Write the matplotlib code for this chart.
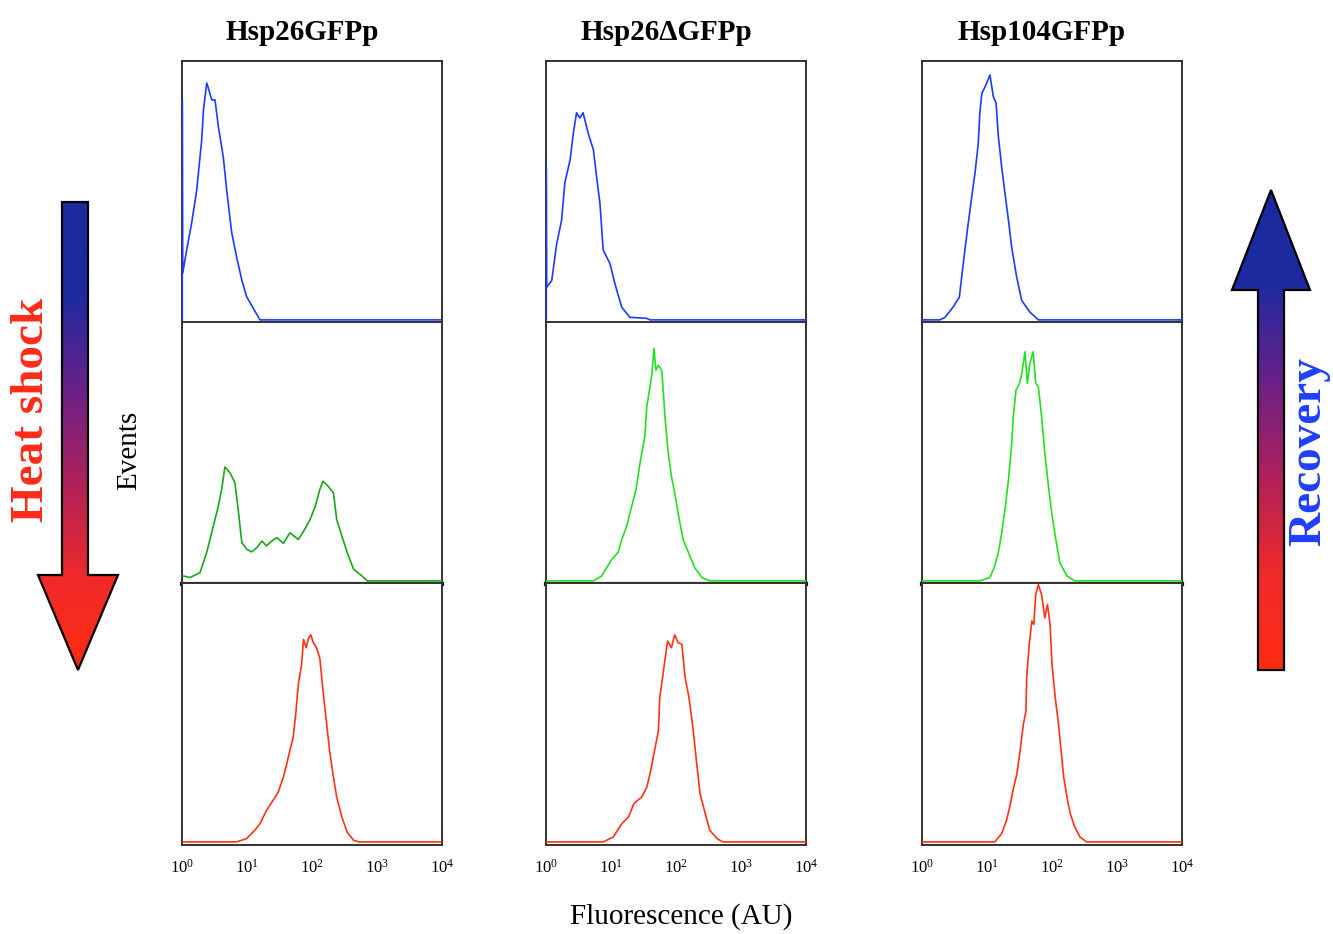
import numpy as np
import matplotlib
matplotlib.use("Agg")
import matplotlib.pyplot as plt
from matplotlib.colors import LinearSegmentedColormap
from matplotlib.patches import Polygon

SERIF = 'Liberation Serif'
plt.rcParams['font.family'] = SERIF
plt.rcParams['mathtext.fontset'] = 'custom'
plt.rcParams['mathtext.rm'] = SERIF

# strain names (columns) and conditions (rows, top to bottom)
strains = ['Hsp26GFPp', 'Hsp26\u0394GFPp', 'Hsp104GFPp']
row_colors = [['#1a3cff', '#1a3cff', '#1a3cff'],
              ['#17a817', '#22e022', '#22e022'],
              ['#ff3311', '#ff3311', '#ff3311']]

# histograms: log10(fluorescence) and relative event count
# row 1 (blue)
hsp26_r1_log = [0.004, 0.004, 0.01, 0.072, 0.149, 0.226, 0.303, 0.33, 0.38, 0.40, 0.457, 0.508,
                0.56, 0.635, 0.688, 0.765, 0.84, 0.92, 0.995, 1.2, 4.0]
hsp26_r1_ev = [0, 0.85, 0.18, 0.27, 0.375, 0.50, 0.695, 0.81, 0.915, 0.90, 0.85, 0.85,
               0.745, 0.63, 0.50, 0.336, 0.243, 0.154, 0.089, 0.0, 0.0]
hsp26d_r1_log = [0.004, 0.004, 0.01, 0.088, 0.165, 0.24, 0.29, 0.37, 0.42, 0.47, 0.52, 0.57, 0.65,
                 0.73, 0.78, 0.83, 0.88, 0.985, 1.06, 1.165, 1.29, 1.55, 1.6, 4.0]
hsp26d_r1_ev = [0, 0.59, 0.126, 0.152, 0.295, 0.385, 0.53, 0.617, 0.72, 0.80, 0.78, 0.80, 0.72,
                0.656, 0.55, 0.45, 0.27, 0.217, 0.14, 0.049, 0.01, 0.006, 0.0, 0.0]
hsp104_r1_log = [0, 0.277, 0.354, 0.48, 0.575, 0.61, 0.66, 0.71, 0.765, 0.815, 0.865, 0.89,
                 0.92, 0.97, 1.046, 1.097, 1.14, 1.175, 1.226, 1.277, 1.33, 1.38, 1.457,
                 1.534, 1.66, 1.79, 4.0]
hsp104_r1_ev = [0, 0, 0.01, 0.05, 0.088, 0.165, 0.27, 0.37, 0.475, 0.566, 0.68, 0.80,
                0.875, 0.90, 0.946, 0.863, 0.837, 0.708, 0.59, 0.488, 0.385, 0.28, 0.165,
                0.075, 0.03, 0.0, 0.0]
# row 2 (green)
hsp26_r2_log = [0, 0.123, 0.277, 0.38, 0.48, 0.56, 0.61, 0.66, 0.74, 0.815, 0.87, 0.92, 1.0,
                1.07, 1.15, 1.23, 1.30, 1.38, 1.46, 1.56, 1.66, 1.79, 1.89, 1.97, 2.05,
                2.12, 2.17, 2.25, 2.33, 2.38, 2.46, 2.54, 2.64, 2.77, 2.85, 4.0]
hsp26_r2_ev = [0.02, 0.013, 0.032, 0.11, 0.21, 0.29, 0.353, 0.44, 0.417, 0.378, 0.263, 0.148,
               0.122, 0.112, 0.128, 0.154, 0.135, 0.154, 0.167, 0.145, 0.186, 0.16, 0.2,
               0.237, 0.288, 0.353, 0.385, 0.365, 0.34, 0.237, 0.173, 0.11, 0.045, 0.019,
               0.0, 0.0]
hsp26d_r2_log = [0, 0.73, 0.857, 1.01, 1.11, 1.165, 1.24, 1.32, 1.385, 1.446, 1.52, 1.55, 1.6,
                 1.63, 1.66, 1.69, 1.73, 1.78, 1.80, 1.83, 1.88, 1.93, 1.98, 2.05, 2.11,
                 2.19, 2.29, 2.4, 2.52, 4.0]
hsp26d_r2_ev = [0, 0, 0.019, 0.083, 0.11, 0.16, 0.21, 0.29, 0.353, 0.455, 0.558, 0.673, 0.75,
                0.80, 0.898, 0.814, 0.833, 0.814, 0.75, 0.635, 0.494, 0.404, 0.34, 0.237,
                0.16, 0.11, 0.05, 0.013, 0.0, 0.0]
hsp104_r2_log = [0, 0.89, 1.046, 1.12, 1.175, 1.226, 1.277, 1.33, 1.38, 1.405, 1.446, 1.5,
                 1.534, 1.585, 1.62, 1.66, 1.71, 1.75, 1.79, 1.84, 1.89, 1.94, 1.995, 2.05,
                 2.12, 2.23, 2.35, 4.0]
hsp104_r2_ev = [0, 0, 0.013, 0.058, 0.11, 0.186, 0.276, 0.39, 0.53, 0.635, 0.737, 0.763,
                0.80, 0.885, 0.763, 0.84, 0.885, 0.763, 0.75, 0.635, 0.494, 0.378, 0.263,
                0.173, 0.07, 0.019, 0.0, 0.0]
# row 3 (red)
hsp26_r3_log = [0, 0.84, 0.995, 1.12, 1.2, 1.30, 1.40, 1.48, 1.56, 1.61, 1.66, 1.71, 1.75,
                1.79, 1.84, 1.87, 1.91, 1.94, 1.98, 2.02, 2.07, 2.12, 2.17, 2.22, 2.27,
                2.33, 2.38, 2.46, 2.54, 2.64, 2.72, 4.0]
hsp26_r3_ev = [0, 0, 0.013, 0.045, 0.07, 0.122, 0.16, 0.192, 0.25, 0.30, 0.353, 0.404, 0.494,
               0.609, 0.686, 0.782, 0.75, 0.782, 0.80, 0.77, 0.75, 0.71, 0.583, 0.468, 0.353,
               0.25, 0.173, 0.096, 0.038, 0.006, 0.0, 0.0]
hsp26d_r3_log = [0, 0.88, 1.035, 1.165, 1.27, 1.35, 1.47, 1.55, 1.6, 1.65, 1.73, 1.75, 1.80,
                 1.87, 1.93, 1.98, 2.03, 2.09, 2.14, 2.2, 2.26, 2.32, 2.37, 2.45, 2.52, 2.63,
                 2.72, 4.0]
hsp26d_r3_ev = [0, 0, 0.019, 0.07, 0.096, 0.147, 0.173, 0.21, 0.263, 0.327, 0.43, 0.557,
                0.647, 0.776, 0.75, 0.80, 0.77, 0.763, 0.635, 0.557, 0.442, 0.30, 0.186,
                0.109, 0.045, 0.013, 0.0, 0.0]
hsp104_r3_log = [0, 1.12, 1.226, 1.30, 1.35, 1.40, 1.46, 1.51, 1.56, 1.60, 1.61, 1.65, 1.69,
                 1.72, 1.75, 1.79, 1.84, 1.89, 1.93, 1.97, 2.0, 2.05, 2.10, 2.14, 2.18, 2.23,
                 2.28, 2.35, 2.43, 2.53, 4.0]
hsp104_r3_ev = [0, 0, 0.032, 0.083, 0.135, 0.2, 0.263, 0.353, 0.455, 0.506, 0.635, 0.763,
                0.853, 0.84, 0.955, 0.994, 0.955, 0.865, 0.917, 0.84, 0.686, 0.557, 0.455,
                0.353, 0.25, 0.173, 0.109, 0.058, 0.019, 0.0, 0.0]

curves = [[(hsp26_r1_log, hsp26_r1_ev), (hsp26d_r1_log, hsp26d_r1_ev), (hsp104_r1_log, hsp104_r1_ev)],
          [(hsp26_r2_log, hsp26_r2_ev), (hsp26d_r2_log, hsp26d_r2_ev), (hsp104_r2_log, hsp104_r2_ev)],
          [(hsp26_r3_log, hsp26_r3_ev), (hsp26d_r3_log, hsp26d_r3_ev), (hsp104_r3_log, hsp104_r3_ev)]]

W, H = 1333, 934
fig = plt.figure(figsize=(W / 100, H / 100), dpi=100)

# overlay in pixel coordinates for arrows and labels
ov = fig.add_axes([0, 0, 1, 1])
ov.axis('off')

col_left = [182, 546, 922]
row_top = [61, 322, 583]
pw, ph = 260, 262

for r in range(3):
    for c in range(3):
        ax = fig.add_axes([col_left[c] / W, 1 - (row_top[r] + ph) / H, pw / W, ph / H])
        lx, ev = curves[r][c]
        ax.plot(10 ** np.array(lx), ev, color=row_colors[r][c], lw=1.2, zorder=3)
        ax.set_xscale('log')
        ax.set_xlim(1, 1e4)
        ax.set_ylim(-0.012, 1.0)
        ax.set_yticks([])
        ax.minorticks_off()
        for s in ax.spines.values():
            s.set_linewidth(1.4)
            s.set_color('#333333')
        if r == 1:
            ax.spines['bottom'].set_linewidth(3)
            ax.spines['bottom'].set_color('black')
        if r == 2:
            ax.set_xticks([1, 10, 100, 1000, 10000])
            ax.tick_params(axis='x', length=0, pad=10, labelsize=12)
        else:
            ax.set_xticks([])

# titles
for c, name in enumerate(strains):
    ov.text(col_left[c] + pw / 2 - 10, 32, name, ha='center', va='center',
            fontsize=21, fontweight='bold')

ov.text(681, 917, 'Fluorescence (AU)', ha='center', va='center', fontsize=21)
ov.text(129, 450, 'Events', ha='center', va='center', rotation=90, fontsize=21)
ov.text(32, 410, 'Heat shock', ha='center', va='center', rotation=90, fontsize=34,
        fontweight='bold', color='#ff2a1a')
ov.text(1309, 452, 'Recovery', ha='center', va='center', rotation=90, fontsize=34,
        fontweight='bold', color='#1f3fff')

# gradient arrows
cmap = LinearSegmentedColormap.from_list('hs', ['#1a2a9e', '#1e2aa0', '#6a2088', '#b0205a',
                                                '#f02a2a', '#ff2a10'])
grad = np.linspace(0, 1, 256).reshape(-1, 1)

left_arrow = [(62, 202), (88, 202), (88, 575), (118, 575), (78, 670), (38, 575), (62, 575)]
poly = Polygon(left_arrow, closed=True, fc='none', ec='black', lw=1.6, zorder=3)
ov.add_patch(poly)
im = ov.imshow(grad, cmap=cmap, aspect='auto', origin='lower', extent=(38, 118, 202, 672),
               zorder=2)
im.set_clip_path(poly)

right_arrow = [(1271, 190), (1310, 290), (1284, 290), (1284, 670), (1258, 670), (1258, 290),
               (1232, 290)]
poly2 = Polygon(right_arrow, closed=True, fc='none', ec='black', lw=1.6, zorder=3)
ov.add_patch(poly2)
im2 = ov.imshow(grad, cmap=cmap, aspect='auto', origin='lower', extent=(1232, 1310, 188, 670),
                zorder=2)
im2.set_clip_path(poly2)
ov.set_xlim(0, W)
ov.set_ylim(H, 0)

fig.savefig('out.png', dpi=100)
